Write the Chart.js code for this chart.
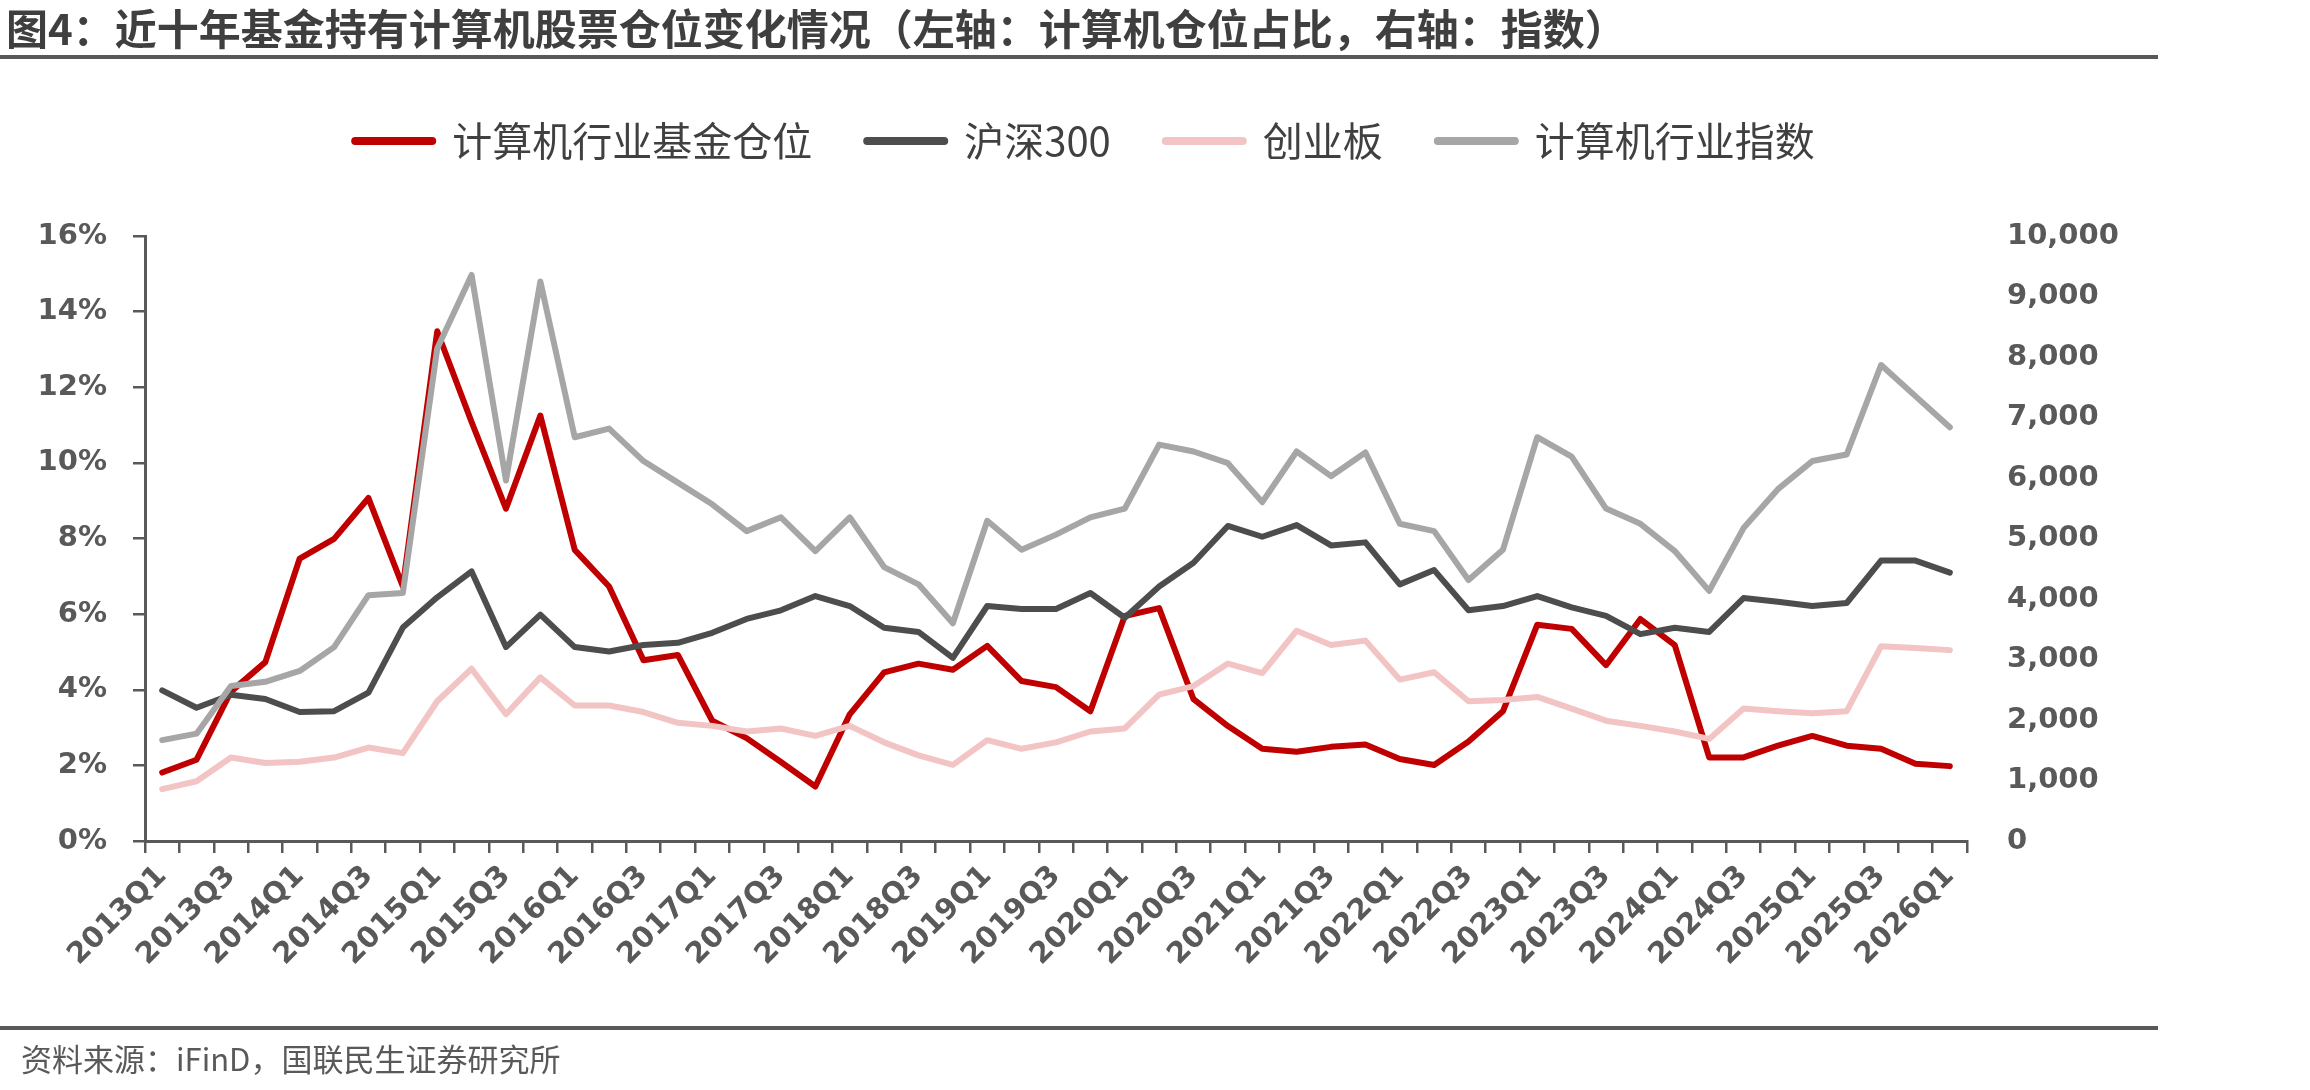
<!DOCTYPE html>
<html>
<head>
<meta charset="utf-8">
<title>近十年基金持有计算机股票仓位变化情况</title>
<script src="https://cdn.jsdelivr.net/npm/chart.js@4"></script>
<style>
  body { margin: 0; background: #fff; }
  #wrap { position: relative; width: 2310px; height: 1090px; overflow: hidden; background: #fff; }
  #chart { position: absolute; left: 0; top: 0; }
  .title { position: absolute; left: 6px; top: 2px; font: bold 42px/50px "Noto Sans CJK SC"; color: #3f3f3f; white-space: nowrap; }
  .rule { position: absolute; left: 0; width: 2158px; height: 4px; background: #595959; }
  .source { position: absolute; left: 21px; top: 1040px; font: 31px/36px "Noto Sans CJK SC"; color: #595959; white-space: nowrap; }
</style>
</head>
<body>
<div id="wrap">
  <canvas id="chart" width="2310" height="1090"></canvas>
  <div class="title">图4：近十年基金持有计算机股票仓位变化情况（左轴：计算机仓位占比，右轴：指数）</div>
  <div class="rule" style="top:55px"></div>
  <div class="rule" style="top:1026px"></div>
  <div class="source">资料来源：iFinD，国联民生证券研究所</div>
</div>
<script>
// quarters 2013Q1 .. 2026Q1
const quarters = [
  '2013Q1','2013Q2','2013Q3','2013Q4','2014Q1','2014Q2','2014Q3','2014Q4',
  '2015Q1','2015Q2','2015Q3','2015Q4','2016Q1','2016Q2','2016Q3','2016Q4',
  '2017Q1','2017Q2','2017Q3','2017Q4','2018Q1','2018Q2','2018Q3','2018Q4',
  '2019Q1','2019Q2','2019Q3','2019Q4','2020Q1','2020Q2','2020Q3','2020Q4',
  '2021Q1','2021Q2','2021Q3','2021Q4','2022Q1','2022Q2','2022Q3','2022Q4',
  '2023Q1','2023Q2','2023Q3','2023Q4','2024Q1','2024Q2','2024Q3','2024Q4',
  '2025Q1','2025Q2','2025Q3','2025Q4','2026Q1'
];

// 计算机行业基金仓位 (%), left axis
const fundWeight = [
  1.81, 2.15, 3.95, 4.73, 7.47, 7.99, 9.07, 6.73,
  13.48, 11.08, 8.79, 11.25, 7.70, 6.73, 4.78, 4.92,
  3.18, 2.72, 2.09, 1.44, 3.35, 4.46, 4.69, 4.53,
  5.16, 4.23, 4.07, 3.43, 5.95, 6.16, 3.75, 3.04,
  2.44, 2.36, 2.49, 2.55, 2.17, 2.01, 2.63, 3.43,
  5.72, 5.61, 4.65, 5.87, 5.18, 2.21, 2.21, 2.52,
  2.78, 2.52, 2.44, 2.04, 1.98
];

// 沪深300, right axis
const hs300 = [
  2489, 2203, 2418, 2346, 2132, 2146, 2454, 3527,
  4027, 4456, 3205, 3741, 3205, 3133, 3240, 3276,
  3441, 3670, 3813, 4049, 3884, 3526, 3455, 3026,
  3884, 3834, 3834, 4099, 3691, 4206, 4599, 5207,
  5029, 5222, 4886, 4936, 4242, 4478, 3813, 3884,
  4049, 3863, 3720, 3419, 3526, 3455, 4016, 3956,
  3884, 3934, 4635, 4635, 4435
];

// 创业板, right axis
const chinext = [
  858, 987, 1380, 1288, 1309, 1380, 1545, 1452,
  2310, 2847, 2096, 2704, 2239, 2239, 2132, 1953,
  1903, 1810, 1860, 1738, 1903, 1631, 1416, 1259,
  1667, 1524, 1631, 1810, 1860, 2418, 2561, 2933,
  2775, 3476, 3240, 3312, 2668, 2790, 2310, 2332,
  2382, 2189, 1989, 1903, 1810, 1688, 2189, 2146,
  2110, 2146, 3219, 3190, 3155
];

// 计算机行业指数, right axis
const csIndex = [
  1667, 1774, 2561, 2632, 2811, 3205, 4063, 4099,
  8140, 9356, 5958, 9249, 6674, 6817, 6280, 5923,
  5565, 5122, 5350, 4793, 5350, 4528, 4242, 3598,
  5293, 4814, 5064, 5350, 5494, 6552, 6438, 6245,
  5601, 6438, 6030, 6423, 5243, 5122, 4313, 4814,
  6674, 6352, 5494, 5243, 4793, 4134, 5172, 5815,
  6280, 6388, 7868, 7353, 6838
];

const seriesNames = ['计算机行业基金仓位', '沪深300', '创业板', '计算机行业指数'];
const seriesColors = ['#c00000', '#4d4d4d', '#f2c4c4', '#a6a6a6'];

const axisColor = '#595959';
const tickFont = { family: 'DejaVu Sans', size: 29, weight: 'bold' };

function line(i, data, axis, order) {
  return {
    label: seriesNames[i],
    data: data,
    xAxisID: 'x',
    yAxisID: axis,
    order: order,
    borderColor: seriesColors[i],
    backgroundColor: seriesColors[i],
    borderWidth: 6,
    borderJoinStyle: 'round',
    borderCapStyle: 'round',
    pointRadius: 0,
    tension: 0
  };
}

new Chart(document.getElementById('chart'), {
  type: 'line',
  data: {
    labels: quarters,
    datasets: [
      line(0, fundWeight, 'y', 3),
      line(1, hs300, 'y1', 2),
      line(2, chinext, 'y1', 1),
      line(3, csIndex, 'y1', 0)
    ]
  },
  options: {
    responsive: false,
    devicePixelRatio: 1,
    animation: false,
    layout: { padding: { top: 66, left: 0, right: 140, bottom: 0 } },
    plugins: {
      tooltip: { enabled: false },
      legend: {
        position: 'top',
        labels: {
          font: { family: 'Noto Sans CJK SC', size: 40 },
          color: '#404040',
          padding: 55,
          usePointStyle: true,
          pointStyle: 'line',
          pointStyleWidth: 77,
          sort: (a, b) => a.datasetIndex - b.datasetIndex,
          generateLabels: chart => Chart.defaults.plugins.legend.labels.generateLabels(chart)
            .map(l => Object.assign(l, { lineWidth: 8, lineCap: 'round', pointStyle: 'line' }))
        }
      }
    },
    scales: {
      x: {
        offset: true,
        grid: { offset: true, drawOnChartArea: false, drawTicks: true, tickLength: 12, color: axisColor, lineWidth: 2.5 },
        border: { display: true, color: axisColor, width: 3 },
        ticks: {
          autoSkip: false,
          minRotation: 45,
          maxRotation: 45,
          padding: 6,
          color: axisColor,
          font: tickFont,
          callback: (v, i) => (i % 2 === 0 ? quarters[i] : '')
        },
        afterFit: s => { s.height = 249; }
      },
      // empty band between legend and plot
      spacer: {
        type: 'linear',
        position: 'top',
        grid: { display: false },
        border: { display: false },
        ticks: { display: false },
        afterFit: s => { s.height = 65; }
      },
      y: {
        position: 'left',
        min: 0,
        max: 16,
        grid: { drawOnChartArea: false, drawTicks: true, tickLength: 12, color: axisColor, lineWidth: 2.5 },
        border: { display: true, color: axisColor, width: 3 },
        ticks: { stepSize: 2, padding: 26, color: axisColor, font: tickFont, callback: v => v + '%' },
        afterFit: s => { s.width = 145; }
      },
      y1: {
        position: 'right',
        min: 0,
        max: 10000,
        grid: { display: false, drawTicks: false },
        border: { display: false },
        ticks: { stepSize: 1000, padding: 40, color: axisColor, font: tickFont, callback: v => v.toLocaleString('en-US') },
        afterFit: s => { s.width = 203; }
      }
    }
  }
});
</script>
</body>
</html>
